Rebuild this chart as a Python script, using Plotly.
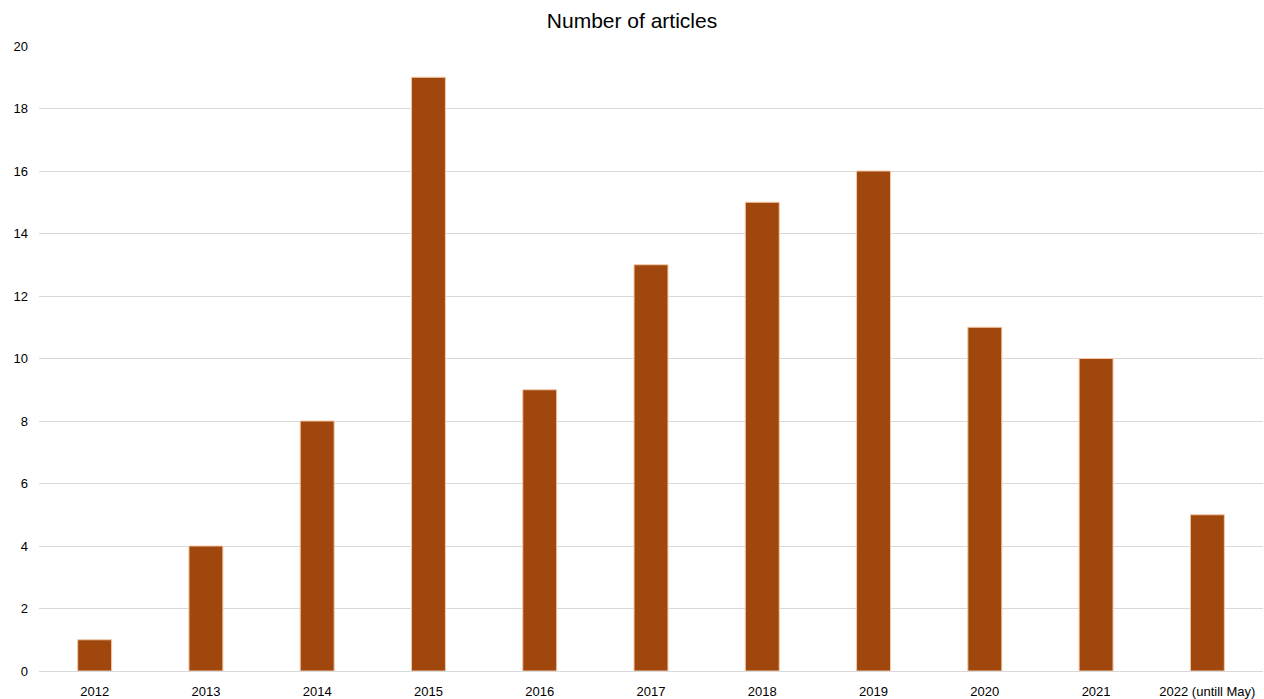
import plotly.graph_objects as go

years = ["2012", "2013", "2014", "2015", "2016", "2017", "2018", "2019", "2020", "2021", "2022 (untill May)"]
articles = [1, 4, 8, 19, 9, 13, 15, 16, 11, 10, 5]

fig = go.Figure(go.Bar(
    x=years, y=articles,
    marker=dict(color="#A0470D", line=dict(color="#F3C9A8", width=1)),
))

fig.update_layout(
    width=1264, height=699,
    margin=dict(l=39, r=1, t=46, b=28),
    paper_bgcolor="white", plot_bgcolor="white",
    bargap=0.695,
    showlegend=False,
    font=dict(family="Liberation Sans, Arial, sans-serif", color="#404040", size=13),
    title=dict(text="Number of articles", x=0.5, xanchor="center", y=0.971, yanchor="middle",
               font=dict(size=21, color="#000000", family="Liberation Sans, Arial, sans-serif")),
)
fig.update_xaxes(showgrid=False, showline=True, linecolor="#D9D9D9", linewidth=1, automargin=False,
                 ticks="", tickfont=dict(size=13, color="#000000"), ticklabelstandoff=8)
fig.update_yaxes(range=[0, 20], dtick=2, showgrid=True, gridcolor="#D9D9D9", gridwidth=1,
                 zeroline=False, showline=False, ticks="", automargin=False,
                 tickfont=dict(size=13, color="#000000"), ticklabelstandoff=10)

fig.write_html("out.html")
